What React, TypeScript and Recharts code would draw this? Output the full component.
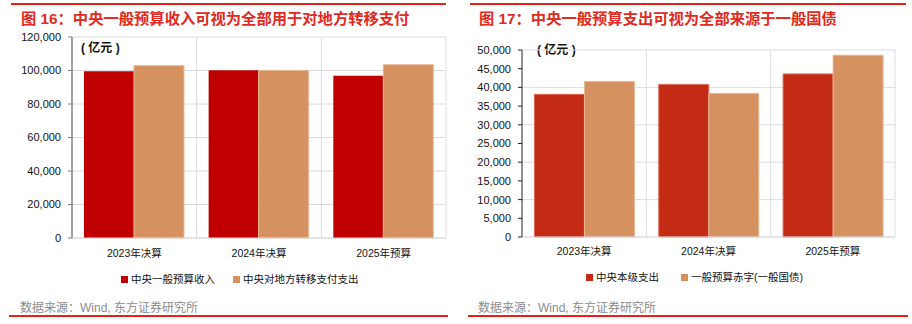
import { BarChart, Bar, XAxis, YAxis, CartesianGrid } from "recharts";

const categories = ["2023年决算", "2024年决算", "2025年预算"];
const revenue = [99500, 100100, 96900];
const transfer = [102900, 100050, 103500];
const centralSpend = [38150, 40800, 43600];
const deficit = [41600, 38400, 48600];
const leftTicks = [0, 20000, 40000, 60000, 80000, 100000, 120000];
const rightTicks = [0, 5000, 10000, 15000, 20000, 25000, 30000, 35000, 40000, 45000, 50000];

const font = "'Liberation Sans', Arial, 'Noto Sans CJK SC', sans-serif";
const RED_LINE = "#E8201A";

const leftData = categories.map((name, i) => ({ name, revenue: revenue[i], transfer: transfer[i] }));
const rightData = categories.map((name, i) => ({ name, spend: centralSpend[i], deficit: deficit[i] }));

const fmt = (v: number) => v.toLocaleString("en-US");

const bandLines = ({ offset }: any) => [
    offset.left + offset.width / 3,
    offset.left + (2 * offset.width) / 3,
    offset.left + offset.width
];

function Square({ color }: { color: string }) {
    return <span style={{ display: "inline-block", width: 7, height: 7, background: color, marginRight: 3, verticalAlign: "middle", position: "relative", top: -1 }} />;
}

function Panel({ left, title, children, legend, lineWidth }: any) {
    return (
        <div style={{ position: "absolute", left, top: 0, width: 456, height: 324 }}>
            <div style={{ position: "absolute", left: lineWidth.start, top: 3, width: lineWidth.len, height: 1.5, background: RED_LINE }} />
            <div style={{ position: "absolute", left: lineWidth.title, top: 6, fontSize: 15.3, fontWeight: "bold", color: "#E02A22", fontFamily: font, whiteSpace: "nowrap" }}>
                {title}
            </div>
            {children}
            {legend}
            <div style={{ position: "absolute", left: lineWidth.title - 1, top: 298, fontSize: 12, color: "#8c8c8c", fontFamily: font, whiteSpace: "nowrap" }}>
                数据来源：Wind, 东方证券研究所
            </div>
            <div style={{ position: "absolute", left: lineWidth.start - 2, top: 315, width: lineWidth.len + 4, height: 1.5, background: RED_LINE }} />
        </div>
    );
}

export default function App() {
    return (
        <div style={{ position: "absolute", left: 0, top: 0, width: 912, height: 324, background: "#fff", fontFamily: font }}>

            <Panel
                left={0}
                title="图 16：中央一般预算收入可视为全部用于对地方转移支付"
                lineWidth={{ start: 11, len: 435, title: 21 }}
                legend={
                    <div style={{ fontSize: 10.5, color: "#111", fontFamily: font }}>
                        <div style={{ position: "absolute", left: 121, top: 271, whiteSpace: "nowrap" }}><Square color="#C00000" />中央一般预算收入</div>
                        <div style={{ position: "absolute", left: 233, top: 271, whiteSpace: "nowrap" }}><Square color="#D69160" />中央对地方转移支付支出</div>
                    </div>
                }
            >
                <div style={{ position: "absolute", left: 81, top: 38, fontSize: 12, fontWeight: "bold", color: "#111", whiteSpace: "nowrap" }}>( 亿元 )</div>
                <div style={{ position: "absolute", left: 0, top: 0 }}>
                    <BarChart width={456} height={324} data={leftData} margin={{ top: 37, right: 10, left: 0, bottom: 56 }} barCategoryGap="9.6%" barGap={0}>
                        <CartesianGrid stroke="#DCDCDC" verticalCoordinatesGenerator={bandLines} />
                        <XAxis dataKey="name" height={30} tickLine={false} axisLine={{ stroke: "#DCDCDC" }} tickMargin={6} tick={{ fontSize: 10.5, fill: "#111", fontFamily: font }} />
                        <YAxis width={72} domain={[0, 120000]} ticks={leftTicks} tickFormatter={fmt} tickSize={4} tickMargin={7} axisLine={{ stroke: "#808080", strokeWidth: 1.5 }} tickLine={{ stroke: "#808080" }} tick={{ fontSize: 11, fill: "#111", fontFamily: font }} />
                        <Bar dataKey="revenue" fill="#C00000" isAnimationActive={false} />
                        <Bar dataKey="transfer" fill="#D69160" stroke="#E6B894" strokeWidth={1} isAnimationActive={false} />
                    </BarChart>
                </div>
            </Panel>

            <Panel
                left={456}
                title="图 17：中央一般预算支出可视为全部来源于一般国债"
                lineWidth={{ start: 14, len: 436, title: 23 }}
                legend={
                    <div style={{ fontSize: 10.5, color: "#111", fontFamily: font }}>
                        <div style={{ position: "absolute", left: 130, top: 269, whiteSpace: "nowrap" }}><Square color="#C42B14" />中央本级支出</div>
                        <div style={{ position: "absolute", left: 225, top: 269, whiteSpace: "nowrap" }}><Square color="#D69160" />一般预算赤字(一般国债)</div>
                    </div>
                }
            >
                <div style={{ position: "absolute", left: 81, top: 40, fontSize: 12, fontWeight: "bold", color: "#111", whiteSpace: "nowrap" }}>( 亿元 )</div>
                <div style={{ position: "absolute", left: 0, top: 0 }}>
                    <BarChart width={456} height={324} data={rightData} margin={{ top: 50, right: 17, left: 0, bottom: 57 }} barCategoryGap="10%" barGap={0}>
                        <CartesianGrid stroke="#DCDCE4" verticalCoordinatesGenerator={bandLines} />
                        <XAxis dataKey="name" height={30} tickLine={false} axisLine={{ stroke: "#DCDCE4" }} tickMargin={5} tick={{ fontSize: 10.5, fill: "#111", fontFamily: font }} />
                        <YAxis width={66} domain={[0, 50000]} ticks={rightTicks} tickFormatter={fmt} tickSize={4} tickMargin={7} axisLine={{ stroke: "#222" }} tickLine={{ stroke: "#222" }} tick={{ fontSize: 11, fill: "#111", fontFamily: font }} />
                        <Bar dataKey="spend" fill="#C42B14" stroke="#DC6A58" strokeWidth={1} isAnimationActive={false} />
                        <Bar dataKey="deficit" fill="#D69160" stroke="#E6B894" strokeWidth={1} isAnimationActive={false} />
                    </BarChart>
                </div>
            </Panel>

        </div>
    );
}
